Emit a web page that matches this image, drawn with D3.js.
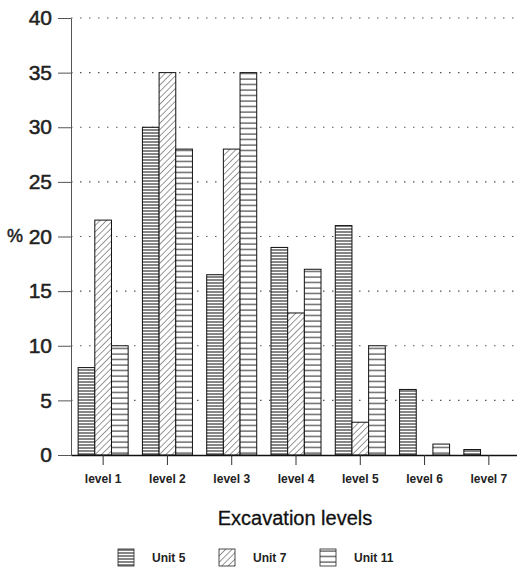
<!DOCTYPE html>
<html>
<head>
<meta charset="utf-8">
<script src="https://cdn.jsdelivr.net/npm/d3@7"></script>
<style>
  html, body { margin: 0; padding: 0; background: #fff; }
  svg { display: block; font-family: "Liberation Sans", Arial, sans-serif; }
</style>
</head>
<body>
<svg id="chart" width="517" height="579"></svg>
<script>
// Percentage of finds per excavation level, by unit
const levels = ["level 1", "level 2", "level 3", "level 4", "level 5", "level 6", "level 7"];
const units = ["Unit 5", "Unit 7", "Unit 11"];
const unit5 = [8, 30, 16.5, 19, 21, 6, 0.5];
const unit7 = [21.5, 35, 28, 13, 3, 0, 0];
const unit11 = [10, 28, 35, 17, 10, 1, 0];
const yTicks = [0, 5, 10, 15, 20, 25, 30, 35, 40];

const seriesValues = [unit5, unit7, unit11];
const rows = levels.map((lv, i) => ({
  level: lv,
  values: units.map((u, j) => ({ unit: u, value: seriesValues[j][i] }))
}));

const svg = d3.select("#chart");
const plotLeft = 71, plotRight = 521, plotTop = 18, plotBottom = 455;

const x0 = d3.scaleBand().domain(levels).range([plotLeft, plotRight])
  .paddingInner(0.222).paddingOuter(0.111);
const x1 = d3.scaleBand().domain(units).range([0, x0.bandwidth()]);
const y = d3.scaleLinear().domain([0, 40]).range([plotBottom, plotTop]);

// Fill patterns for the three units
const defs = svg.append("defs");
const p5 = defs.append("pattern").attr("id", "pat-u5")
  .attr("patternUnits", "userSpaceOnUse").attr("width", 6).attr("height", 3);
p5.append("rect").attr("width", 6).attr("height", 3).attr("fill", "#fff");
p5.append("line").attr("x1", 0).attr("x2", 6).attr("y1", 1).attr("y2", 1)
  .attr("stroke", "#222").attr("stroke-width", 1.1);

const p7 = defs.append("pattern").attr("id", "pat-u7")
  .attr("patternUnits", "userSpaceOnUse").attr("width", 4.5).attr("height", 4.5)
  .attr("patternTransform", "rotate(45)");
p7.append("rect").attr("width", 4.5).attr("height", 4.5).attr("fill", "#fff");
p7.append("line").attr("x1", 0).attr("x2", 0).attr("y1", 0).attr("y2", 4.5)
  .attr("stroke", "#333").attr("stroke-width", 1);

const p11 = defs.append("pattern").attr("id", "pat-u11")
  .attr("patternUnits", "userSpaceOnUse").attr("width", 6).attr("height", 5.5);
p11.append("rect").attr("width", 6).attr("height", 5.5).attr("fill", "#fff");
p11.append("line").attr("x1", 0).attr("x2", 6).attr("y1", 2).attr("y2", 2)
  .attr("stroke", "#222").attr("stroke-width", 1);

const fills = { "Unit 5": "url(#pat-u5)", "Unit 7": "url(#pat-u7)", "Unit 11": "url(#pat-u11)" };

// Dotted horizontal grid
svg.append("g").selectAll("line")
  .data(yTicks.filter(t => t > 0))
  .join("line")
  .attr("x1", plotLeft).attr("x2", 517)
  .attr("y1", d => y(d)).attr("y2", d => y(d))
  .attr("stroke", "#555").attr("stroke-width", 1.2)
  .attr("stroke-dasharray", "1.5,7.5");

// Bars
svg.append("g").selectAll("g")
  .data(rows)
  .join("g")
  .attr("transform", d => `translate(${x0(d.level)},0)`)
  .selectAll("rect")
  .data(d => d.values.filter(v => v.value > 0))
  .join("rect")
  .attr("x", d => x1(d.unit))
  .attr("width", x1.bandwidth())
  .attr("y", d => y(d.value))
  .attr("height", d => y(0) - y(d.value))
  .attr("fill", d => fills[d.unit])
  .attr("stroke", "#111").attr("stroke-width", 1);

// Y axis
const yAxis = svg.append("g")
  .attr("transform", `translate(${plotLeft},0)`)
  .call(d3.axisLeft(y).tickValues(yTicks).tickSize(13).tickPadding(6).tickSizeOuter(0));
yAxis.select(".domain").attr("stroke", "#555");
yAxis.selectAll(".tick line").attr("stroke", "#555");
yAxis.selectAll("text").attr("font-size", 21).attr("fill", "#222")
  .attr("stroke", "#222").attr("stroke-width", 0.5)
  .attr("font-family", "Liberation Sans, Arial, sans-serif");

svg.append("text").attr("x", 7).attr("y", y(20)).attr("dy", "0.32em")
  .attr("font-size", 18).attr("fill", "#222")
  .attr("stroke", "#222").attr("stroke-width", 0.5).text("%");

// X axis
const xAxis = svg.append("g")
  .attr("transform", `translate(0,${plotBottom})`)
  .call(d3.axisBottom(x0).tickSize(10).tickPadding(9).tickSizeOuter(0));
xAxis.select(".domain").attr("stroke", "#111").attr("stroke-width", 1.4);
xAxis.selectAll(".tick line").attr("stroke", "#333");
xAxis.selectAll("text").attr("font-size", 12).attr("font-weight", "bold")
  .attr("fill", "#222").attr("font-family", "Liberation Sans, Arial, sans-serif");

svg.append("text").attr("x", 295).attr("y", 525).attr("text-anchor", "middle")
  .attr("font-size", 20).attr("fill", "#111")
  .attr("stroke", "#111").attr("stroke-width", 0.3).text("Excavation levels");

// Legend
const legendX = d3.scalePoint().domain(units).range([118, 320]);
const lg = svg.append("g").selectAll("g").data(units).join("g")
  .attr("transform", d => `translate(${legendX(d)},549)`);
lg.append("rect").attr("width", 16).attr("height", 17)
  .attr("fill", d => fills[d]).attr("stroke", "#222").attr("stroke-width", 0.8);
lg.append("text").attr("x", 34).attr("y", 13).attr("font-size", 12)
  .attr("font-weight", "bold").attr("fill", "#222").text(d => d);
</script>
</body>
</html>
